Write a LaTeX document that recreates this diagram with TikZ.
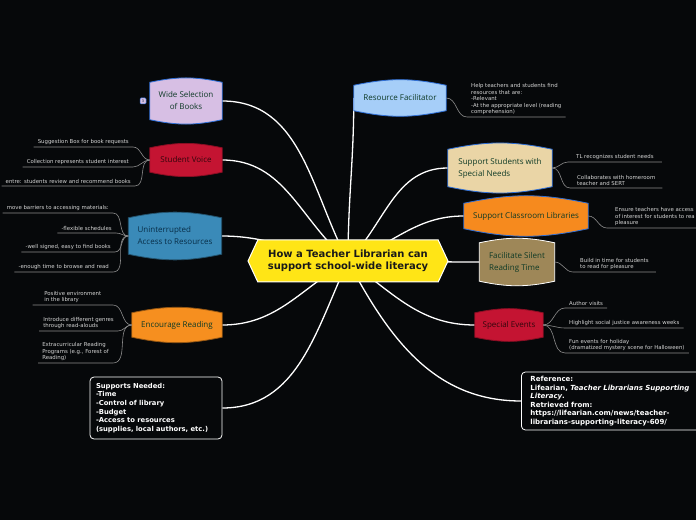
\documentclass[tikz,border=0pt]{standalone}
\usepackage{fontspec}
\setmainfont{DejaVu Sans}
\newfontfamily\topicfont{Open Sans}
\usepackage{xcolor}
\usetikzlibrary{positioning, backgrounds, shapes.symbols}
\definecolor{bgcol}{RGB}{6,8,10}
\definecolor{hubyellow}{RGB}{255,229,22}
\definecolor{edgeblue}{RGB}{47,111,214}
\definecolor{wideFill}{RGB}{215,191,228}
\definecolor{voiceFill}{RGB}{196,20,50}
\definecolor{accessFill}{RGB}{58,138,184}
\definecolor{encFill}{RGB}{246,143,31}
\definecolor{resFill}{RGB}{166,206,248}
\definecolor{specialFill}{RGB}{234,213,166}
\definecolor{classFill}{RGB}{246,138,30}
\definecolor{silentFill}{RGB}{158,135,88}
\definecolor{greenInk}{RGB}{14,58,38}
\definecolor{redInk}{RGB}{50,6,12}
\definecolor{blueInk}{RGB}{8,46,72}
\definecolor{leafgray}{RGB}{212,212,212}
\definecolor{twiggray}{RGB}{140,140,140}
\tikzset{
    hub/.style={signal, signal to=west and east, signal pointer angle=130, fill=hubyellow, draw=white, line width=1pt, minimum width=200pt, minimum height=42pt, inner sep=2pt, font=\bfseries\fontsize{10}{12.5}\selectfont, text=black!90, align=center},
    topic/.style={inner sep=2pt, font=\topicfont\fontsize{8}{12}\selectfont, text=greenInk, align=left},
    leaf/.style={inner xsep=4pt, inner ysep=2pt, font=\fontsize{5.4}{6.5}\selectfont, text=leafgray, align=left},
    notebox/.style={fill=bgcol, draw=white, line width=0.8pt, rounded corners=4pt, inner xsep=9pt, font=\bfseries\fontsize{7}{8.5}\selectfont, text=white, align=left},
    branch/.style={draw=white, line width=1.3pt},
    twig/.style={draw=twiggray, line width=0.6pt}
}
\begin{document}
\begin{tikzpicture}[x=1pt, y=1pt]
    \useasboundingbox (0,0) rectangle (696,520);
    \clip (0,0) rectangle (696,520);
    % centre
    \node (root) [hub] at (348,259) {How a Teacher Librarian can\\support school-wide literacy};
    % left topics
    \node (wide) [topic, align=center, minimum width=72pt, minimum height=37pt] at (186,419) {Wide Selection\\ of Books};
    \node (count) [fill=wideFill, draw=edgeblue, line width=0.5pt, rounded corners=1pt, inner sep=0.8pt, minimum size=6pt, font=\fontsize{3.5}{4}\selectfont, text=blueInk] at (143,419) {3};
    \node (voice) [topic, text=redInk, minimum width=72pt, minimum height=24pt] at (186,360) {Student Voice};
    \node (access) [topic, text=blueInk, minimum width=93pt, minimum height=36pt] at (175,284) {Uninterrupted\\Access to Resources};
    \node (encourage) [topic, minimum width=90pt, minimum height=24pt] at (177,195) {Encourage Reading};
    \node (supports) [notebox, inner xsep=6pt, text width=120pt, minimum height=62pt, font=\bfseries\fontsize{6.8}{8.6}\selectfont] at (156,112) {Supports Needed:\\-Time\\-Control of library\\-Budget\\-Access to resources\\(supplies, local authors, etc.)};
    % right topics
    \node (resource) [topic, minimum width=92pt, minimum height=25pt] at (400,422) {Resource Facilitator};
    \node (special) [topic, minimum width=104pt, minimum height=37pt] at (500,352) {Support Students with\\Special Needs};
    \node (classroom) [topic, minimum width=124pt, minimum height=25pt] at (526,304) {Support Classroom Libraries};
    \node (silent) [topic, minimum width=75pt, minimum height=38pt] at (517,258) {Facilitate Silent\\Reading Time};
    \node (events) [topic, text=redInk, minimum width=68pt, minimum height=24pt] at (509,195) {Special Events};
    \node (reference) [notebox, anchor=west, text width=172pt, minimum height=58pt] at (521,119) {Reference:\\Lifearian, \textit{Teacher Librarians Supporting}\\\textit{Literacy}.\\Retrieved from:\\https://lifearian.com/news/teacher-\\librarians-supporting-literacy-609/};
    % leaves, left side
    \node (voice1) [leaf, anchor=south east] at (133,373) {Suggestion Box for book requests};
    \node (voice2) [leaf, anchor=south east] at (133,353) {Collection represents student interest};
    \node (voice3) [leaf, anchor=south east] at (135,334) {entre: students review and recommend books};
    \node (access1) [leaf, anchor=south east] at (113,307) {move barriers to accessing materials:};
    \node (access2) [leaf, anchor=south east] at (116,287) {-flexible schedules};
    \node (access3) [leaf, anchor=south east] at (115,268) {-well signed, easy to find books};
    \node (access4) [leaf, anchor=south east] at (113,248) {-enough time to browse and read};
    \node (enc1) [leaf, anchor=south east, minimum width=80pt] at (113,215) {Positive environment\\in the library};
    \node (enc2) [leaf, anchor=south east] at (118,189) {Introduce different genres\\through read-alouds};
    \node (enc3) [leaf, anchor=south east] at (113,157) {Extracurricular Reading\\Programs (e.g., Forest of\\Reading)};
    % leaves, right side
    \node (resource1) [leaf, anchor=south west] at (467,403) {Help teachers and students find\\resources that are:\\-Relevant\\-At the appropriate level (reading\\comprehension)};
    \node (special1) [leaf, anchor=south west, inner xsep=8pt] at (568,358) {TL recognizes student needs};
    \node (special2) [leaf, anchor=south west, inner xsep=7pt] at (570,332) {Collaborates with homeroom\\teacher and SERT};
    \node (class1) [leaf, anchor=south west, inner xsep=8pt] at (607,292) {Ensure teachers have access\\of interest for students to rea\\pleasure};
    \node (silent1) [leaf, anchor=south west, inner xsep=7pt] at (573,248) {Build in time for students\\to read for pleasure};
    \node (events1) [leaf, anchor=south west] at (565,212) {Author visits};
    \node (events2) [leaf, anchor=south west] at (565,192) {Highlight social justice awareness weeks};
    \node (events3) [leaf, anchor=south west] at (565,167) {Fun events for holiday\\(dramatized mystery scene for Halloween)};
    % leaf connectors
    \foreach \p/\c in {voice/voice1, voice/voice2, voice/voice3, access/access1, access/access2, access/access3, access/access4, encourage/enc1, encourage/enc2, encourage/enc3}
        \draw[twig] (\p.west) to[out=180, in=0] (\c.south east) -- (\c.south west);
    \foreach \p/\c in {resource/resource1, special/special1, special/special2, classroom/class1, silent/silent1, events/events1, events/events2, events/events3}
        \draw[twig] (\p.east) to[out=0, in=180] (\c.south west) -- (\c.south east);
    \begin{scope}[on background layer]
        \fill[bgcol] (0,0) rectangle (696,520);
        % main branches
        \draw[branch] (root.center) to[out=118, in=0] (wide.east);
        \draw[branch] (root.center) to[out=140, in=0] (voice.east);
        \draw[branch] (root.center) to[out=172, in=0] (access.east);
        \draw[branch] (root.center) to[out=-150, in=0] (encourage.east);
        \draw[branch] (root.center) to[out=-115, in=0] (supports.east);
        \draw[branch] (root.center) to[out=90, in=-90] (resource.west);
        \draw[branch] (root.center) to[out=45, in=180] (special.west);
        \draw[branch] (root.center) to[out=20, in=180] (classroom.west);
        \draw[branch] (root.center) to[out=0, in=180] (silent.west);
        \draw[branch] (root.center) to[out=-35, in=180] (events.west);
        \draw[branch] (root.center) to[out=-62, in=180] (reference.west);
        % topic shapes
        \foreach \n/\f/\e in {wide/wideFill/edgeblue, voice/voiceFill/voiceFill!70!black, access/accessFill/accessFill!60!black, encourage/encFill/encFill!60!black, resource/resFill/edgeblue, special/specialFill/edgeblue, classroom/classFill/edgeblue, silent/silentFill/white, events/voiceFill/voiceFill!70!black}
            \path[fill=\f, draw=\e, line width=0.8pt] (\n.north west) to[bend left=12] (\n.north east) -- (\n.south east) to[bend left=12] (\n.south west) -- cycle;
    \end{scope}
\end{tikzpicture}
\end{document}
